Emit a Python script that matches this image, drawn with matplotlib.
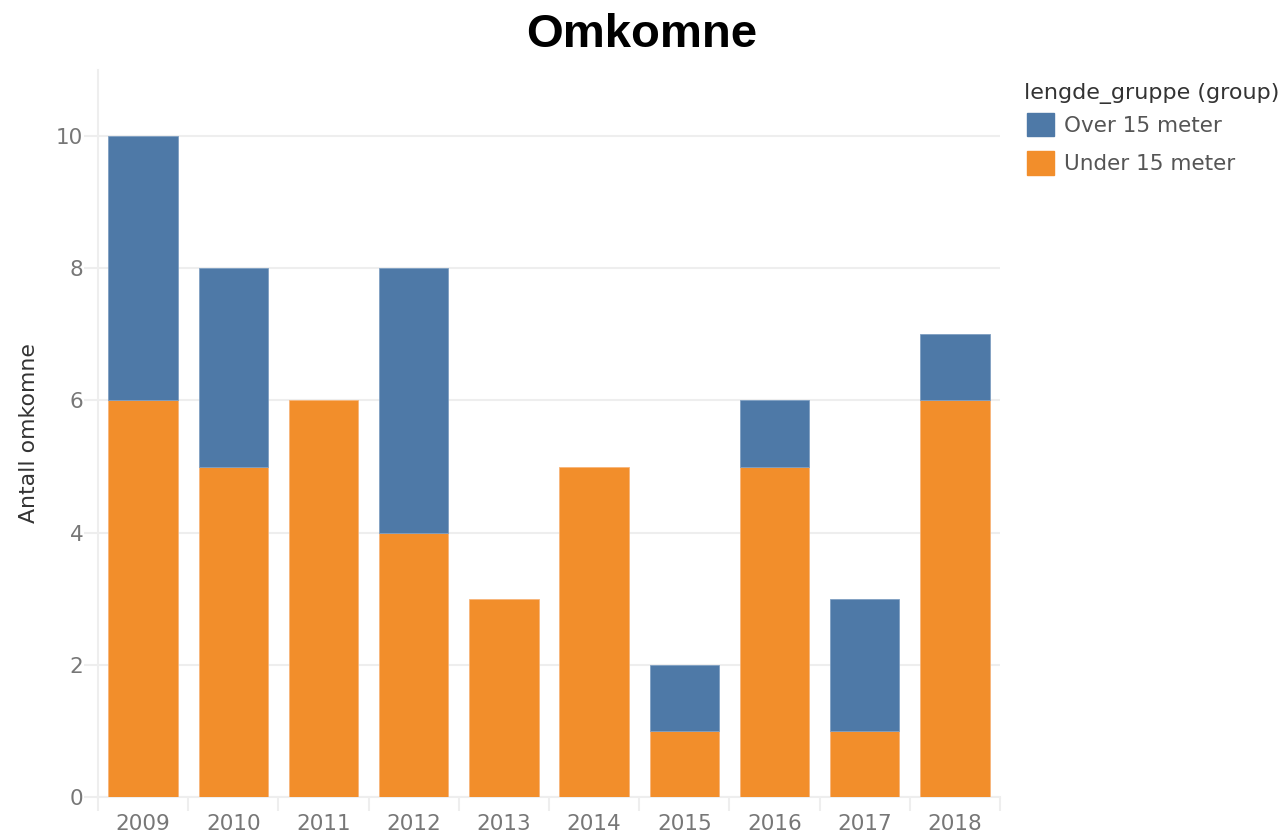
import numpy as np
import matplotlib.pyplot as plt
from matplotlib.patches import Patch

years = ['2009', '2010', '2011', '2012', '2013', '2014', '2015', '2016', '2017', '2018']
under_15 = [6, 5, 6, 4, 3, 5, 1, 5, 1, 6]
over_15 = [4, 3, 0, 4, 0, 0, 1, 1, 2, 1]
y_ticks = [0, 2, 4, 6, 8, 10]

blue = '#4e79a7'
orange = '#f28e2b'
grid_col = '#eeeeee'

plt.rcParams['font.family'] = ['DejaVu Sans']

fig = plt.figure(figsize=(12.84, 8.34), dpi=100)
ax = fig.add_axes([98 / 1284, 1 - 797 / 834, 902 / 1284, 727 / 834])

x = np.arange(len(years))
ax.bar(x, under_15, width=0.77, color=orange, edgecolor='#f7b57a', linewidth=0.6, zorder=3)
# skip empty segments so no edge line shows on top of bars
over_lw = [0.6 if v > 0 else 0 for v in over_15]
ax.bar(x, over_15, width=0.77, bottom=under_15, color=blue, edgecolor='#7f9fc2', linewidth=over_lw, zorder=3)

ax.set_xlim(-0.5, 9.5)
ax.set_ylim(0, 11.0)

ax.set_yticks(y_ticks)
ax.set_yticklabels([str(v) for v in y_ticks])
ax.grid(axis='y', color=grid_col, linewidth=1.5, zorder=0)

ax.set_xticks(x)
ax.set_xticklabels(years)
ax.set_xticks(np.arange(-0.5, 10, 1), minor=True)
ax.tick_params(axis='x', which='major', length=0, labelsize=15.5, labelcolor='#777777', pad=12)
ax.tick_params(axis='x', which='minor', length=10, color=grid_col, width=1.5, direction='out')
ax.tick_params(axis='y', length=10, color=grid_col, width=1.5, labelsize=15.5, labelcolor='#777777', pad=0.5)

for side in ['top', 'right']:
    ax.spines[side].set_visible(False)
ax.spines['left'].set_color(grid_col)
ax.spines['left'].set_linewidth(1.5)
ax.spines['bottom'].set_color(grid_col)
ax.spines['bottom'].set_linewidth(1.5)

ax.set_ylabel('Antall omkomne', fontsize=15.8, color='#333333', labelpad=12)

fig.text(0.5, 0.958, 'Omkomne', ha='center', va='center', fontsize=34,
         fontweight='bold', family='Liberation Sans', color='black')

# legend title drawn on its own so the gap to the entries can be set freely
fig.text(1024 / 1284, 1 - 93 / 834, 'lengde_gruppe (group)', ha='left', va='center',
         fontsize=16, color='#333333')
handles = [Patch(facecolor=blue, edgecolor=blue), Patch(facecolor=orange, edgecolor=orange)]
leg = fig.legend(handles, ['Over 15 meter', 'Under 15 meter'],
                 loc='upper left', bbox_to_anchor=(1018 / 1284, 1 - 104 / 834), frameon=False,
                 borderaxespad=0, fontsize=15.5, handlelength=1.25, handleheight=1.3,
                 handletextpad=0.5, labelspacing=0.7)
for t in leg.get_texts():
    t.set_color('#555555')

fig.savefig('out.png', dpi=100)
